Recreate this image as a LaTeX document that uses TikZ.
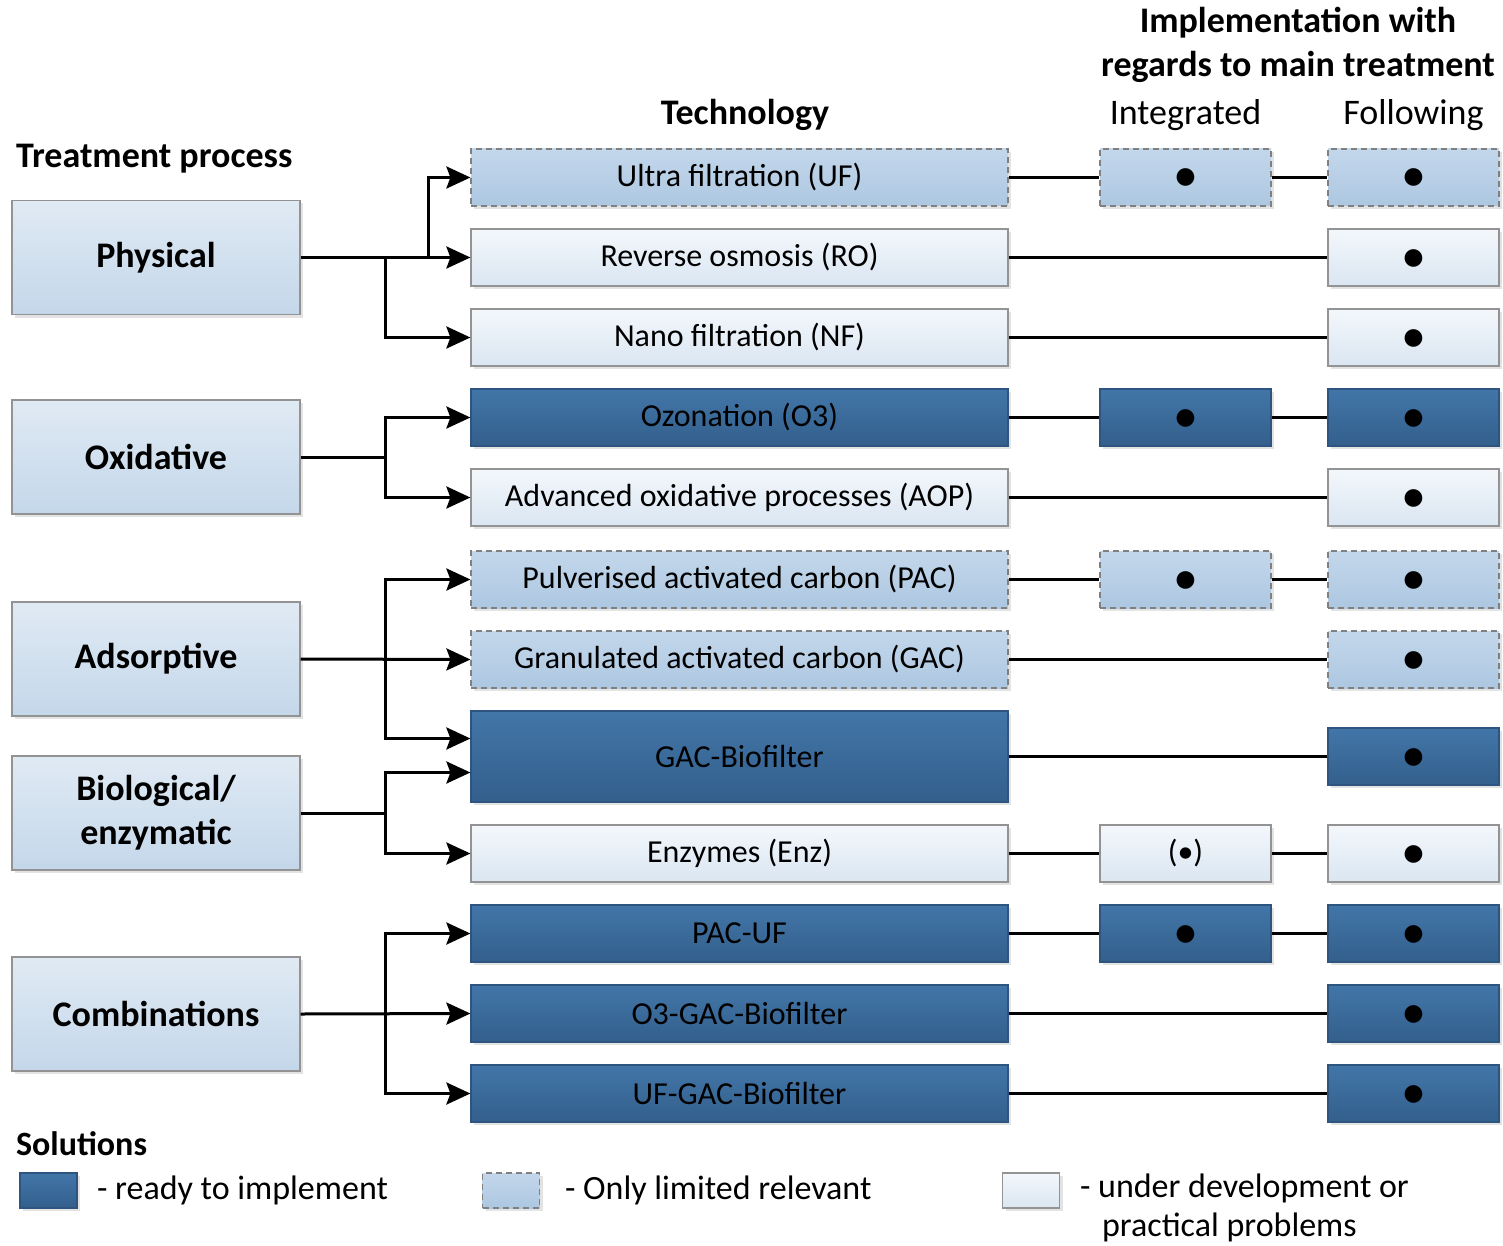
\documentclass[tikz,border=0pt]{standalone}
\usepackage{fontspec}
\setmainfont{Carlito}
\usepackage{xcolor}
\usetikzlibrary{arrows.meta,shadows,calc}
\definecolor{readyTop}{HTML}{4276A8}
\definecolor{readyBot}{HTML}{335F8C}
\definecolor{readyLine}{HTML}{2E5580}
\definecolor{limTop}{HTML}{C3D7EB}
\definecolor{limBot}{HTML}{ADC7E1}
\definecolor{devTop}{HTML}{F3F7FB}
\definecolor{devBot}{HTML}{DAE6F2}
\definecolor{procTop}{HTML}{E0EAF4}
\definecolor{procBot}{HTML}{C4D7EA}
\newcommand{\dotmark}{{\fontsize{25}{25}\selectfont\raisebox{-0.29em}[0pt][0pt]{\textbullet}}}
\begin{document}
\begin{tikzpicture}[x=0.5pt,y=-0.5pt,
    box/.style={rectangle, inner sep=0pt, draw=gray!85, line width=0.6pt,
      drop shadow={shadow xshift=1.5pt, shadow yshift=-1.5pt, opacity=0.22}},
    proc/.style={box, minimum width=144pt, minimum height=57pt, top color=procTop,
      bottom color=procBot, align=center, font=\fontsize{18}{22}\selectfont\bfseries},
    tech/.style={box, minimum width=268.5pt, minimum height=28.5pt, font=\fontsize{16}{19}\selectfont},
    impl/.style={box, minimum width=85.5pt, minimum height=28.5pt, font=\fontsize{16}{19}\selectfont},
    key/.style={box, minimum width=28.5pt, minimum height=17.5pt},
    ready/.style={top color=readyTop, bottom color=readyBot, draw=readyLine},
    limited/.style={top color=limTop, bottom color=limBot, draw=gray, dashed, dash pattern=on 3pt off 2pt},
    devel/.style={top color=devTop, bottom color=devBot},
    head/.style={font=\fontsize{18}{22}\selectfont\bfseries},
    link/.style={line width=1.5pt},
    arr/.style={link, -{Stealth[length=12pt, width=11pt, inset=2pt]}}]
  \useasboundingbox (0,0) rectangle (1503,1246);

  \node[head, anchor=west] (thead) at (9,159) {Treatment process};
  \node[head] (techhead) at (745,115) {Technology};
  \node[head, align=center] (implhead) at (1298,45) {Implementation with\\regards to main treatment};
  \node[font=\fontsize{18}{22}\selectfont] (ihead) at (1185.5,115) {Integrated};
  \node[font=\fontsize{18}{22}\selectfont] (fhead) at (1413.5,115) {Following};

  \node[proc] (phys) at (156,257.5) {Physical};
  \node[proc] (oxid) at (156,457) {Oxidative};
  \node[proc] (adsorp) at (156,659) {Adsorptive};
  \node[proc] (bio) at (156,813) {Biological/\\enzymatic};
  \node[proc] (comb) at (156,1014) {Combinations};

  \node[tech, limited] (uf) at (739.5,177.5) {Ultra filtration (UF)};
  \node[tech, devel] (ro) at (739.5,257.5) {Reverse osmosis (RO)};
  \node[tech, devel] (nf) at (739.5,337.5) {Nano filtration (NF)};
  \node[tech, ready] (ozone) at (739.5,417.5) {Ozonation (O3)};
  \node[tech, devel] (aop) at (739.5,497.5) {Advanced oxidative processes (AOP)};
  \node[tech, limited] (pac) at (739.5,579.5) {Pulverised activated carbon (PAC)};
  \node[tech, limited] (gac) at (739.5,659.5) {Granulated activated carbon (GAC)};
  \node[tech, ready, minimum height=45.5pt] (gacbio) at (739.5,756.5) {GAC-Biofilter};
  \node[tech, devel] (enz) at (739.5,853.5) {Enzymes (Enz)};
  \node[tech, ready] (pacuf) at (739.5,933.5) {PAC-UF};
  \node[tech, ready] (ogac) at (739.5,1013.5) {O3-GAC-Biofilter};
  \node[tech, ready] (ufgac) at (739.5,1093.5) {UF-GAC-Biofilter};

  \node[impl, limited] (ufI) at (1185.5,177.5) {\dotmark};
  \node[impl, ready] (ozoneI) at (1185.5,417.5) {\dotmark};
  \node[impl, limited] (pacI) at (1185.5,579.5) {\dotmark};
  \node[impl, devel] (enzI) at (1185.5,853.5) {(\textbullet)};
  \node[impl, ready] (pacufI) at (1185.5,933.5) {\dotmark};

  \node[impl, limited] (ufF) at (1413.5,177.5) {\dotmark};
  \node[impl, devel] (roF) at (1413.5,257.5) {\dotmark};
  \node[impl, devel] (nfF) at (1413.5,337.5) {\dotmark};
  \node[impl, ready] (ozoneF) at (1413.5,417.5) {\dotmark};
  \node[impl, devel] (aopF) at (1413.5,497.5) {\dotmark};
  \node[impl, limited] (pacF) at (1413.5,579.5) {\dotmark};
  \node[impl, limited] (gacF) at (1413.5,659.5) {\dotmark};
  \node[impl, ready] (gacbioF) at (1413.5,756.5) {\dotmark};
  \node[impl, devel] (enzF) at (1413.5,853.5) {\dotmark};
  \node[impl, ready] (pacufF) at (1413.5,933.5) {\dotmark};
  \node[impl, ready] (ogacF) at (1413.5,1013.5) {\dotmark};
  \node[impl, ready] (ufgacF) at (1413.5,1093.5) {\dotmark};

  \draw[arr] (phys.east) -- (ro.west);
  \coordinate (physA) at ($(phys.east)+(85,0)$);
  \coordinate (physB) at ($(phys.east)+(128,0)$);
  \draw[arr] (physA) |- (nf.west);
  \draw[arr] (physB) |- (uf.west);

  \draw[link] (oxid.east) -- ++(85,0) coordinate (oxidA);
  \draw[arr] (oxidA) |- (ozone.west);
  \draw[arr] (oxidA) |- (aop.west);

  \draw[arr] (adsorp.east) -- (gac.west);
  \coordinate (adsorpA) at ($(adsorp.east)+(85,0)$);
  \draw[arr] (adsorpA) |- (pac.west);
  \draw[arr] (adsorpA) |- ($(gacbio.west)+(0,-18)$);

  \draw[link] (bio.east) -- ++(85,0) coordinate (bioA);
  \draw[arr] (bioA) |- ($(gacbio.west)+(0,16)$);
  \draw[arr] (bioA) |- (enz.west);

  \draw[arr] (comb.east) -- (ogac.west);
  \coordinate (combA) at ($(comb.east)+(85,0)$);
  \draw[arr] (combA) |- (pacuf.west);
  \draw[arr] (combA) |- (ufgac.west);

  \draw[link] (uf.east) -- (ufI.west);
  \draw[link] (ufI.east) -- (ufF.west);
  \draw[link] (ro.east) -- (roF.west);
  \draw[link] (nf.east) -- (nfF.west);
  \draw[link] (ozone.east) -- (ozoneI.west);
  \draw[link] (ozoneI.east) -- (ozoneF.west);
  \draw[link] (aop.east) -- (aopF.west);
  \draw[link] (pac.east) -- (pacI.west);
  \draw[link] (pacI.east) -- (pacF.west);
  \draw[link] (gac.east) -- (gacF.west);
  \draw[link] (gacbio.east) -- (gacbioF.west);
  \draw[link] (enz.east) -- (enzI.west);
  \draw[link] (enzI.east) -- (enzF.west);
  \draw[link] (pacuf.east) -- (pacufI.west);
  \draw[link] (pacufI.east) -- (pacufF.west);
  \draw[link] (ogac.east) -- (ogacF.west);
  \draw[link] (ufgac.east) -- (ufgacF.west);

  \node[head, font=\fontsize{17}{20}\selectfont\bfseries, anchor=west] (solhead) at (9,1144) {Solutions};
  \node[key, ready] (keyready) at (48.5,1190.5) {};
  \node[key, limited] (keylim) at (511,1190.5) {};
  \node[key, devel] (keydev) at (1031,1190.5) {};
  \node[anchor=west, font=\fontsize{17}{20}\selectfont] (txtready) at (90,1190) {- ready to implement};
  \node[anchor=west, font=\fontsize{17}{20}\selectfont] (txtlim) at (558,1190) {- Only limited relevant};
  \node[anchor=north west, align=left, font=\fontsize{17}{19.5}\selectfont] (txtdev) at (1073,1167)
    {- under development or\\\hspace*{11pt}practical problems};
\end{tikzpicture}
\end{document}
